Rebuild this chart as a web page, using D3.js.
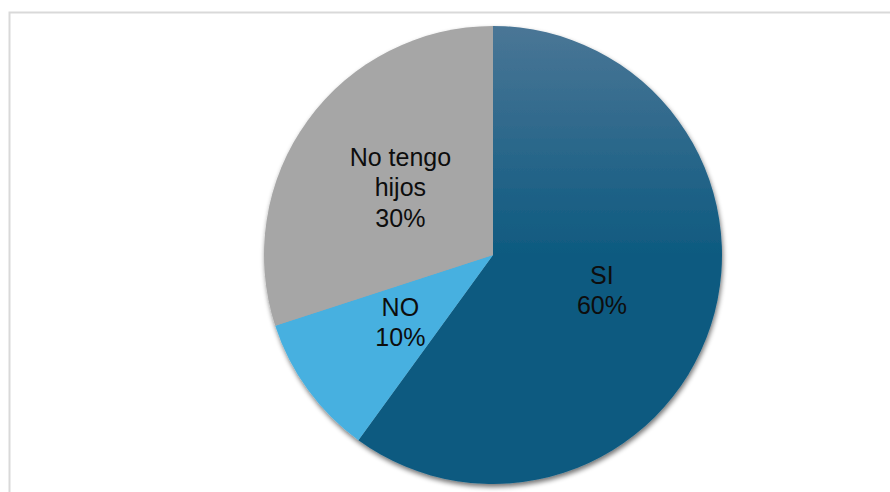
<!DOCTYPE html>
<html>
<head>
<meta charset="utf-8">
<script src="https://cdn.jsdelivr.net/npm/d3@7.9.0/dist/d3.min.js"></script>
<style>
  body { margin: 0; background: #fff; }
  svg { display: block; }
</style>
</head>
<body>
<svg id="chart" width="890" height="492"></svg>
<script>
// data
const categories = ['SI', 'NO', 'No tengo hijos'];
const values = [60, 10, 30];
const labelLines = [['SI', '60%'], ['NO', '10%'], ['No tengo', 'hijos', '30%']];
const colors = ['url(#siGrad)', '#47b0e0', '#a6a6a6'];

const svg = d3.select('#chart');
const cx = 493, cy = 255, r = 229;

// chart frame (only top + left edges fall inside the window)
svg.append('rect')
  .attr('x', 9.5).attr('y', 12.5)
  .attr('width', 900).attr('height', 500)
  .attr('fill', 'none')
  .attr('stroke', '#d9d9d9')
  .attr('stroke-width', 2);

const defs = svg.append('defs');
// gradient coords are in the pie group's space (centre = 0,0)
const grad = defs.append('linearGradient')
  .attr('id', 'siGrad')
  .attr('gradientUnits', 'userSpaceOnUse')
  .attr('x1', 0).attr('y1', -r)
  .attr('x2', 0).attr('y2', 0);
grad.append('stop').attr('offset', 0).attr('stop-color', '#4a7696');
grad.append('stop').attr('offset', 1).attr('stop-color', '#0e5a80');

const shadow = defs.append('filter').attr('id', 'shadow')
  .attr('x', '-10%').attr('y', '-10%').attr('width', '120%').attr('height', '120%');
shadow.append('feGaussianBlur').attr('in', 'SourceAlpha').attr('stdDeviation', 2.5);
shadow.append('feOffset').attr('dx', 1).attr('dy', 3).attr('result', 'blur');
shadow.append('feComponentTransfer').append('feFuncA').attr('type', 'linear').attr('slope', 0.55);
const merge = shadow.append('feMerge');
merge.append('feMergeNode');
merge.append('feMergeNode').attr('in', 'SourceGraphic');

const data = categories.map((c, i) => ({ label: c, value: values[i], lines: labelLines[i], i }));
const arcs = d3.pie().value(d => d.value).sort(null)(data);
const arcGen = d3.arc().innerRadius(0).outerRadius(r);

const g = svg.append('g').attr('transform', `translate(${cx},${cy})`);

g.append('g').attr('filter', 'url(#shadow)')
  .selectAll('path')
  .data(arcs)
  .enter().append('path')
    .attr('d', arcGen)
    .attr('fill', d => colors[d.data.i]);

// labels sit at half the radius along each slice's mid angle
const labelArc = d3.arc().innerRadius(r * 0.5).outerRadius(r * 0.5);
const lineH = 30.5;
const labels = g.selectAll('text.lbl')
  .data(arcs)
  .enter().append('text')
    .attr('class', 'lbl')
    .attr('font-family', 'Liberation Sans, Arial, sans-serif')
    .attr('font-size', 25)
    .attr('fill', '#0d0d0d')
    .attr('text-anchor', 'middle')
    .attr('transform', d => `translate(${labelArc.centroid(d)})`);

labels.each(function (d) {
  const n = d.data.lines.length;
  d3.select(this).selectAll('tspan')
    .data(d.data.lines)
    .enter().append('tspan')
      .attr('x', 0)
      .attr('y', (_, k) => (k - (n - 1) / 2) * lineH)
      .attr('dy', '0.35em')
      .text(t => t);
});
</script>
</body>
</html>
